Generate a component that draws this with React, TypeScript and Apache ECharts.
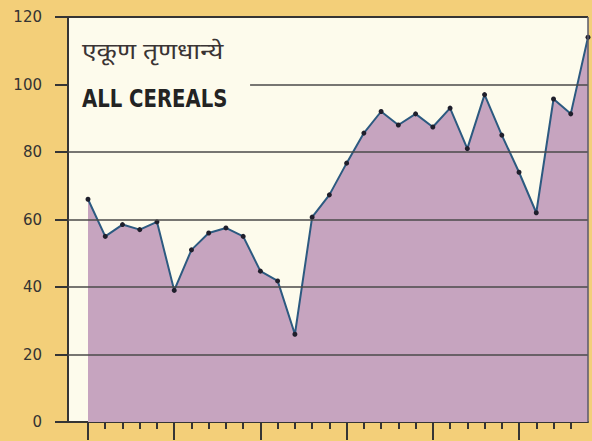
import React, { useEffect, useRef } from "react";
import * as echarts from "echarts";

// one point per crop year (index 0 = first season shown)
const seasonIndex = [
  0, 1, 2, 3, 4, 5, 6, 7, 8, 9, 10, 11, 12, 13, 14, 15, 16, 17, 18, 19, 20, 21,
  22, 23, 24, 25, 26, 27, 28, 29,
];
const cerealValues = [
  66, 55, 58.5, 57, 59.3, 39, 51, 56, 57.5, 55, 44.7, 41.8, 26, 60.7, 67.3,
  76.7, 85.6, 92, 88, 91.3, 87.4, 93, 81, 97, 85, 74, 62, 95.7, 91.3, 114,
];
const yTicks = [0, 20, 40, 60, 80, 100, 120];
const minorTickValues = [
  0, 1, 2, 3, 4, 5, 6, 7, 8, 9, 10, 11, 12, 13, 14, 15, 16, 17, 18, 19, 20, 21,
  22, 23, 24, 25, 26, 27, 28,
];
const majorTickValues = [0, 5, 10, 15, 20, 25];
const titleMarathi = "एकूण तृणधान्ये";
const titleEnglish = "ALL CEREALS";

export default function App() {
  const ref = useRef<HTMLDivElement>(null);
  useEffect(() => {
    if (!ref.current) return;
    const chart = echarts.init(ref.current, undefined, { renderer: "svg" });
    const xMin = -1.16;
    const xMax = seasonIndex[seasonIndex.length - 1];
    chart.setOption({
      animation: false,
      backgroundColor: "#f3cf79",
      grid: {
        left: 68,
        right: 4,
        top: 17,
        bottom: 19,
        show: true,
        backgroundColor: "#fdfbec",
        borderWidth: 0,
      },
      xAxis: [
        {
          type: "value",
          min: xMin,
          max: xMax,
          position: "bottom",
          axisLine: { show: true, onZero: false, lineStyle: { color: "#353535", width: 2 } },
          axisTick: {
            show: true,
            customValues: minorTickValues,
            length: 7,
            lineStyle: { color: "#353535", width: 2 },
          },
          axisLabel: { show: false },
          splitLine: { show: false },
        },
        {
          type: "value",
          min: xMin,
          max: xMax,
          position: "bottom",
          axisLine: { show: false, onZero: false },
          axisTick: {
            show: true,
            customValues: majorTickValues,
            length: 18,
            lineStyle: { color: "#353535", width: 2 },
          },
          axisLabel: { show: false },
          splitLine: { show: false },
        },
      ],
      yAxis: {
        type: "value",
        min: yTicks[0],
        max: yTicks[yTicks.length - 1],
        interval: 20,
        axisLine: { show: true, onZero: false, lineStyle: { color: "#353535", width: 2 } },
        axisTick: { show: true, length: 13, lineStyle: { color: "#353535", width: 2 } },
        axisLabel: {
          margin: 26,
          color: "#333333",
          fontSize: 15,
          fontFamily: "DejaVu Sans",
        },
        splitLine: { show: false },
      },
      graphic: [
        {
          type: "text",
          left: 82,
          top: 42,
          scaleX: 1.15,
          z: 10,
          style: {
            text: titleMarathi,
            fontSize: 23,
            fill: "#3a3434",
            fontFamily: "'Noto Sans Devanagari', 'Noto Sans', sans-serif",
          },
        },
        {
          type: "text",
          left: 82,
          top: 87,
          scaleX: 0.91,
          z: 10,
          style: {
            text: titleEnglish,
            fontSize: 24,
            fontWeight: "bold",
            fill: "#232323",
            fontFamily: "'Liberation Sans Narrow', 'DejaVu Sans Condensed', sans-serif",
          },
        },
      ],
      series: [
        {
          type: "line",
          xAxisIndex: 0,
          data: seasonIndex.map((s, i) => [s, cerealValues[i]]),
          symbol: "circle",
          symbolSize: 5,
          showSymbol: true,
          itemStyle: { color: "#1f1f2c" },
          lineStyle: { color: "#2c5a80", width: 2 },
          areaStyle: { color: "#c6a4bf", opacity: 1 },
          z: 2,
          markLine: {
            silent: true,
            symbol: "none",
            label: { show: false },
            lineStyle: { color: "#4a4a4a", width: 1.5, type: "solid" },
            data: [
              { yAxis: 20 },
              { yAxis: 40 },
              { yAxis: 60 },
              { yAxis: 80 },
              [{ coord: [9.4, 100] }, { coord: [xMax, 100] }],
              { yAxis: 120, lineStyle: { color: "#353535", width: 2 } },
              { xAxis: xMax, lineStyle: { color: "#5a5a6a", width: 1.5 } },
            ],
          },
        },
      ],
    });
    return () => chart.dispose();
  }, []);
  return <div ref={ref} style={{ width: 592, height: 441, position: "absolute", left: 0, top: 0 }} />;
}
